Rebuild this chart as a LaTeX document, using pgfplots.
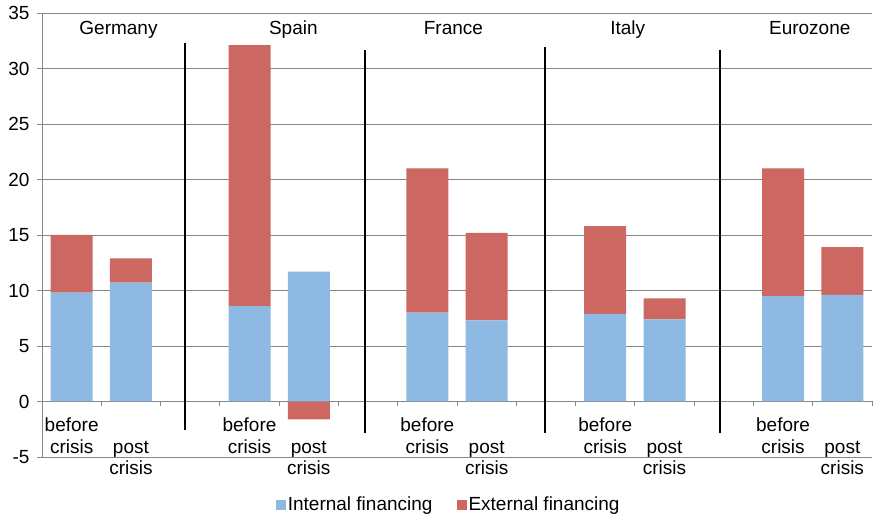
\documentclass[border=0pt]{standalone}
\usepackage{fontspec}
\setmainfont{Liberation Sans}
\usepackage{pgfplots}
\usepackage{pgfplotstable}
\pgfplotsset{compat=1.18}
\definecolor{intblue}{RGB}{141,185,226}
\definecolor{extred}{RGB}{204,103,98}
\definecolor{gridgray}{RGB}{134,134,134}

\pgfplotstableread{
x int ext
0 9.8 5.2
1 10.7 2.2
3 8.6 23.5
4 11.7 -1.6
6 8.0 13.0
7 7.3 7.9
9 7.9 7.9
10 7.4 1.9
12 9.5 11.5
13 9.6 4.3
}\financing

\begin{document}
\fontsize{19}{22}\selectfont
\begin{tikzpicture}
\begin{axis}[
  at={(0,0)}, anchor=south west,
  scale only axis, width=830pt, height=444pt,
  clip=false,
  ybar stacked, stack negative=separate, bar width=42pt,
  xmin=-0.5, xmax=13.5, ymin=-5, ymax=35,
  axis x line*=middle, axis y line*=left,
  axis line style={gridgray, line width=0.8pt},
  xtick={-0.5,0.5,...,13.5}, xticklabels={},
  ytick={-5,0,...,35},
  ymajorgrids, grid style={gridgray, line width=0.8pt},
  tick align=outside, major tick length=5pt,
  tick style={gridgray, line width=0.8pt},
  /pgf/number format/assume math mode=true,
  yticklabel style={font=\fontsize{19}{22}\selectfont, xshift=-1pt},
  legend columns=2,
  legend style={draw=none, at={(0.49,-0.108)}, anchor=center,
    font=\fontsize{19}{22}\selectfont,
    /tikz/every even column/.append style={column sep=22pt}},
  legend image code/.code={\fill[#1] (0pt,-5pt) rectangle (10pt,5pt);},
]
\addplot[fill=intblue, draw=none] table[x=x, y=int] {\financing};
\addlegendentry{Internal financing}
\addplot[fill=extred, draw=none] table[x=x, y=ext] {\financing};
\addlegendentry{External financing}

\draw[line width=2.2pt] (axis cs:1.91,32.3) -- (axis cs:1.91,-2.6);
\draw[line width=2.2pt] (axis cs:4.95,31.65) -- (axis cs:4.95,-2.8);
\draw[line width=2.2pt] (axis cs:7.98,31.9) -- (axis cs:7.98,-2.8);
\draw[line width=2.2pt] (axis cs:10.93,31.7) -- (axis cs:10.93,-2.8);

\node[anchor=base] at (axis cs:0.79,33.1) {Germany};
\node[anchor=base] at (axis cs:3.74,33.1) {Spain};
\node[anchor=base] at (axis cs:6.44,33.1) {France};
\node[anchor=base] at (axis cs:9.38,33.1) {Italy};
\node[anchor=base] at (axis cs:12.45,33.1) {Eurozone};

\pgfplotsinvokeforeach{0,3,6,9,12}{
  \node[anchor=base, inner sep=0pt, yshift=-30pt] at (axis cs:#1,0) {before};
  \node[anchor=base, inner sep=0pt, yshift=-52pt] at (axis cs:#1,0) {crisis};
}
\pgfplotsinvokeforeach{1,4,7,10,13}{
  \node[anchor=base, inner sep=0pt, yshift=-52pt] at (axis cs:#1,0) {post};
  \node[anchor=base, inner sep=0pt, yshift=-73pt] at (axis cs:#1,0) {crisis};
}
\end{axis}
\pgfresetboundingbox
\useasboundingbox (-42pt,-62pt) rectangle (831pt,457pt);
\end{tikzpicture}
\end{document}
